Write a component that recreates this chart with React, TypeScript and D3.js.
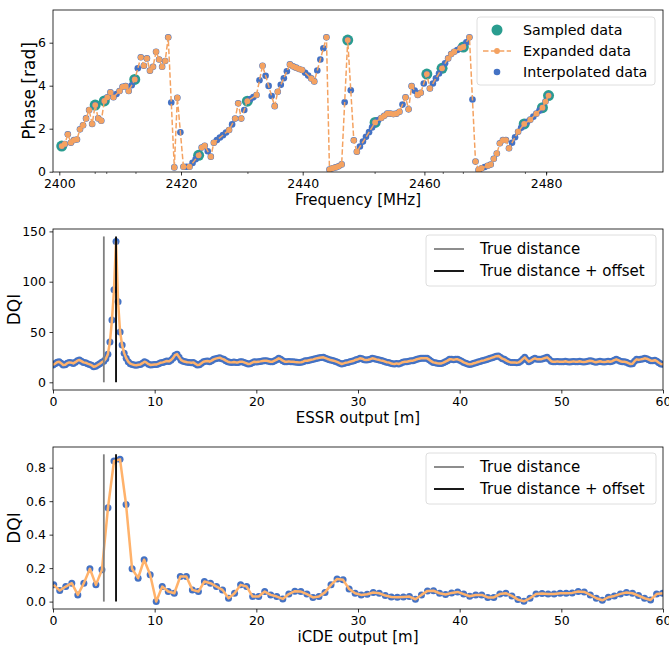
import * as d3 from 'd3';
import { useEffect, useRef } from 'react';

// phase vs frequency (top panel)
const freqStart = 2400.4; // MHz, first channel of the sweep
const freqStep = 0.5;
const interpolatedPhase = [
  1.19, 1.29, 1.74, 1.35, 1.47, 1.5, 1.97, 2.16, 2.48, 2.87,
  2.22, 3.1, 2.48, 2.37, 3.29, 3.46, 3.69, 3.46, 3.61, 3.75,
  3.95, 3.98, 3.75, 4.02, 4.29, 4.81, 5.32, 4.93, 5.27, 4.7,
  4.88, 5.58, 5.22, 4.88, 5.15, 6.25, 3.22, 0.2, 3.44, 1.83,
  0.23, 0.23, 0.23, 0.41, 0.58, 0.76, 1.12, 1.21, 0.95, 0.7,
  1.35, 1.47, 1.59, 1.7, 1.82, 1.94, 2.2, 2.47, 3.18, 2.47,
  2.87, 3.28, 3.38, 3.47, 3.57, 4.25, 4.93, 4.46, 3.99, 3.52,
  3.05, 3.72, 4.04, 4.35, 4.67, 4.99, 4.9, 4.84, 4.78, 4.73,
  4.6, 4.47, 4.34, 4.2, 4.71, 5.22, 5.74, 6.25, 0.1, 0.16,
  0.2, 0.25, 0.34, 3.23, 6.12, 3.79, 1.46, 0.93, 1.17, 1.4,
  1.62, 1.84, 2.06, 2.29, 2.4, 2.5, 2.6, 2.7, 2.7, 2.68,
  2.7, 2.79, 3.12, 3.46, 2.9, 3.98, 3.77, 3.57, 3.67, 4.1,
  4.54, 3.87, 4.1, 4.34, 4.57, 4.81, 5.04, 5.27, 5.47, 5.58,
  5.66, 5.75, 5.8, 6.02, 6.25, 3.36, 0.47, 0.08, 0.16, 0.22,
  0.28, 0.33, 0.6, 0.85, 1.32, 1.47, 1.47, 1.09, 1.35, 1.6,
  1.86, 2.04, 2.22, 2.32, 2.42, 2.56, 2.7, 2.84, 2.98, 3.26,
  3.54,
];
// channel indices with no expanded value (only the interpolated dot)
const missingExpanded = [
  18, 23, 25, 36, 39, 41, 43, 44, 48, 51, 52, 53, 54, 56, 60, 62, 63, 65,
  67, 68, 69, 72, 73, 74, 80, 81, 84, 85, 86, 93, 95, 98, 99, 100, 101, 102,
  104, 112, 116, 119, 122, 123, 124, 126, 130, 133, 135, 139, 148, 149, 151,
  153, 155, 157,
];
const sampledIdx = [0, 11, 14, 24, 45, 61, 94, 103, 120, 125, 132, 152, 158, 160];
const markedFreqs = [2405.9, 2407.8, 2412.6, 2431.0, 2451.9, 2463.1, 2466.4, 2476.6, 2480.1];
const freqTicks = [2400, 2420, 2440, 2460, 2480];
const phaseTicks = [0, 2, 4, 6];

// DQI vs distance (middle and bottom panels)
const essrStep = 0.2;
const essrDqi = [
  17.2, 18.5, 20.0, 20.5, 19.0, 17.2, 17.5, 19.0, 19.8, 19.5,
  18.8, 20.0, 21.5, 22.1, 21.0, 19.8, 19.5, 18.5, 17.8, 17.0,
  15.5, 16.0, 17.2, 18.5, 20.0, 21.0, 23.5, 28.0, 40.0, 62.0,
  92.0, 140.0, 80.0, 50.0, 37.0, 29.0, 24.0, 20.5, 18.5, 17.8,
  17.2, 17.0, 17.5, 17.8, 19.0, 20.5, 19.5, 18.0, 17.2, 17.5,
  17.8, 17.8, 18.5, 19.5, 19.8, 20.5, 21.2, 20.8, 22.0, 24.0,
  27.0, 28.0, 25.0, 22.0, 21.0, 20.5, 20.0, 19.8, 19.5, 19.8,
  18.5, 17.2, 17.5, 19.0, 20.5, 21.0, 21.2, 20.5, 21.5, 22.8,
  23.5, 24.0, 24.5, 23.5, 22.8, 21.5, 20.5, 20.0, 19.8, 20.2,
  19.8, 19.8, 20.5, 20.5, 19.8, 19.0, 18.2, 18.5, 19.5, 20.5,
  20.2, 20.5, 20.8, 21.2, 21.5, 21.5, 21.0, 20.5, 20.5, 21.5,
  22.5, 23.8, 23.0, 21.5, 20.5, 20.5, 20.8, 20.5, 20.5, 20.2,
  20.0, 19.8, 20.0, 20.5, 21.5, 21.5, 22.0, 22.5, 22.8, 23.5,
  24.0, 24.3, 24.6, 24.8, 24.0, 23.2, 22.5, 22.0, 21.5, 20.8,
  20.0, 19.0, 18.2, 18.8, 19.5, 19.8, 20.5, 21.0, 21.5, 22.5,
  23.0, 23.8, 23.5, 22.5, 22.2, 22.5, 23.0, 23.8, 23.5, 22.8,
  22.5, 21.8, 21.5, 20.8, 20.0, 19.8, 19.0, 18.5, 18.2, 18.8,
  18.2, 19.0, 20.0, 20.5, 20.5, 21.0, 21.5, 21.5, 22.2, 23.0,
  23.5, 23.8, 24.0, 23.8, 23.8, 22.5, 21.0, 19.8, 19.5, 19.0,
  18.8, 18.8, 19.5, 20.5, 21.5, 22.8, 22.8, 22.5, 22.8, 22.8,
  22.0, 21.0, 19.8, 19.0, 18.2, 17.8, 18.2, 19.0, 19.5, 20.2,
  20.8, 21.5, 21.8, 22.5, 23.2, 23.8, 24.5, 25.2, 26.0, 26.2,
  25.0, 23.5, 22.8, 21.5, 20.5, 19.8, 19.8, 19.8, 19.5, 19.8,
  21.0, 23.0, 24.8, 22.5, 20.5, 21.5, 23.0, 23.8, 23.0, 22.8,
  22.8, 23.5, 24.2, 24.8, 23.0, 21.0, 20.5, 20.5, 20.8, 20.5,
  20.5, 20.5, 21.0, 20.5, 20.2, 20.5, 20.8, 20.5, 20.5, 21.0,
  20.5, 20.2, 20.5, 21.0, 21.5, 21.2, 20.5, 20.0, 20.5, 21.0,
  20.5, 20.2, 20.5, 21.0, 20.5, 21.0, 22.0, 22.8, 22.0, 21.0,
  20.5, 20.5, 20.0, 19.0, 18.2, 18.5, 21.0, 22.8, 22.5, 22.8,
  23.2, 23.8, 23.5, 22.5, 21.5, 21.5, 22.0, 21.0, 19.5, 18.2,
  18.0,
];
const icdeStart = 0.07;
const icdeStep = 0.593;
const icdeDqi = [
  0.1, 0.066, 0.09, 0.11, 0.04, 0.11, 0.196, 0.1, 0.19, 0.56,
  0.84, 0.85, 0.58, 0.196, 0.14, 0.25, 0.16, 0.0, 0.09, 0.06,
  0.05, 0.15, 0.15, 0.07, 0.06, 0.12, 0.11, 0.09, 0.07, 0.02,
  0.05, 0.1, 0.09, 0.03, 0.03, 0.06, 0.04, 0.03, 0.016, 0.045,
  0.062, 0.06, 0.045, 0.025, 0.03, 0.055, 0.1, 0.135, 0.13, 0.075,
  0.05, 0.04, 0.044, 0.054, 0.05, 0.036, 0.028, 0.026, 0.028, 0.03,
  0.014, 0.04, 0.064, 0.065, 0.05, 0.042, 0.052, 0.058, 0.045, 0.032,
  0.04, 0.04, 0.025, 0.025, 0.045, 0.05, 0.034, 0.012, 0.002, 0.02,
  0.045, 0.048, 0.046, 0.046, 0.05, 0.05, 0.052, 0.06, 0.058, 0.04,
  0.02, 0.008, 0.026, 0.034, 0.046, 0.054, 0.05, 0.036, 0.02, 0.01,
  0.045, 0.05,
];
const distTicks = [0, 10, 20, 30, 40, 50, 60];
const essrTicks = [0, 50, 100, 150];
const icdeTicks = [0, 0.2, 0.4, 0.6, 0.8];
const trueDistance = 5.0;
const offsetDistance = 6.2;
const essrLineTop = 145;
const icdeLineTop = 0.88;

const FONT = "'DejaVu Sans', sans-serif";
const TEAL = '#2a9d8f';
const ORANGE = '#f4a261';
const BLUE = '#4472c4';
const LIGHT_ORANGE = '#ffb26b';
const L = 53;
const R = 663;

export default function App() {
  const svgRef = useRef<SVGSVGElement>(null);

  useEffect(() => {
    const svg = d3.select(svgRef.current);
    svg.selectAll('*').remove();
    const defs = svg.append('defs');

    const panel = (id, top, bottom, x, y, xTicks, yTicks, yFmt, xLabel, yLabel, yLabelX) => {
      defs.append('clipPath').attr('id', id).append('rect')
        .attr('x', L).attr('y', top).attr('width', R - L).attr('height', bottom - top);
      const xa = svg.append('g').attr('transform', `translate(0,${bottom})`)
        .call(d3.axisBottom(x).tickValues(xTicks).tickFormat(d => String(d)).tickSize(3.5).tickPadding(3.5));
      const ya = svg.append('g').attr('transform', `translate(${L},0)`)
        .call(d3.axisLeft(y).tickValues(yTicks).tickFormat(yFmt).tickSize(3.5).tickPadding(3.5));
      [xa, ya].forEach(a => {
        a.select('.domain').remove();
        a.attr('font-family', FONT).attr('font-size', 12.5);
        a.selectAll('line').attr('stroke-width', 0.8);
      });
      svg.append('text')
        .attr('x', (L + R) / 2).attr('y', bottom + 32.5)
        .attr('text-anchor', 'middle').attr('font-family', FONT).attr('font-size', 15)
        .text(xLabel);
      svg.append('text')
        .attr('transform', `translate(${yLabelX},${(top + bottom) / 2}) rotate(-90)`)
        .attr('text-anchor', 'middle').attr('font-family', FONT).attr('font-size', 17)
        .text(yLabel);
      return svg.append('g').attr('clip-path', `url(#${id})`);
    };

    const border = (top, bottom) => {
      svg.append('rect')
        .attr('x', L).attr('y', top).attr('width', R - L).attr('height', bottom - top)
        .attr('fill', 'none').attr('stroke', '#000').attr('stroke-width', 0.8);
    };

    const legendBox = (x, y, w, h) => {
      svg.append('rect')
        .attr('x', x).attr('y', y).attr('width', w).attr('height', h).attr('rx', 3)
        .attr('fill', '#fff').attr('fill-opacity', 0.8)
        .attr('stroke', '#d6d6d6').attr('stroke-width', 0.8);
    };
    const legendText = (x, y, t, size) => {
      svg.append('text')
        .attr('x', x).attr('y', y).attr('dy', '0.36em')
        .attr('font-family', FONT).attr('font-size', size).text(t);
    };

    // ---------- top: phase ----------
    const fx = d3.scaleLinear().domain([2400, 2480]).range([59.3, 546.1]);
    const py = d3.scaleLinear().domain([0, 6]).range([171.7, 42.7]);
    const topPlot = panel('clipTop', 10, 172, fx, py, freqTicks, phaseTicks, d => String(d),
      'Frequency [MHz]', 'Phase [rad]', 35);

    const phasePts = interpolatedPhase.map((v, i) => ({ f: freqStart + i * freqStep, v, i }));
    const expandedPts = phasePts.filter(d => !missingExpanded.includes(d.i));
    const sampledPts = sampledIdx.map(i => phasePts[i]);

    topPlot.selectAll('.sampled').data(sampledPts).join('circle')
      .attr('class', 'sampled')
      .attr('cx', d => fx(d.f)).attr('cy', d => py(d.v)).attr('r', 5.5)
      .attr('fill', TEAL);
    topPlot.selectAll('.interp').data(phasePts).join('circle')
      .attr('class', 'interp')
      .attr('cx', d => fx(d.f)).attr('cy', d => py(d.v)).attr('r', 3.3)
      .attr('fill', BLUE);
    topPlot.append('path')
      .attr('d', d3.line().x(d => fx(d.f)).y(d => py(d.v))(expandedPts))
      .attr('fill', 'none').attr('stroke', ORANGE).attr('stroke-width', 1.5)
      .attr('stroke-dasharray', '5.5,2.4');
    topPlot.selectAll('.expanded').data(expandedPts).join('circle')
      .attr('class', 'expanded')
      .attr('cx', d => fx(d.f)).attr('cy', d => py(d.v)).attr('r', 2.9)
      .attr('fill', ORANGE);

    svg.selectAll('.mark').data(markedFreqs).join('line')
      .attr('class', 'mark')
      .attr('x1', d => fx(d)).attr('x2', d => fx(d)).attr('y1', 172).attr('y2', 174)
      .attr('stroke', '#000').attr('stroke-width', 0.6);
    border(10, 172);

    legendBox(477, 17, 178, 68);
    svg.append('circle').attr('cx', 497).attr('cy', 30).attr('r', 5.5).attr('fill', TEAL);
    svg.append('line').attr('x1', 483).attr('x2', 511).attr('y1', 51).attr('y2', 51)
      .attr('stroke', ORANGE).attr('stroke-width', 1.5).attr('stroke-dasharray', '5.5,2.4');
    svg.append('circle').attr('cx', 497).attr('cy', 51).attr('r', 2.9).attr('fill', ORANGE);
    svg.append('circle').attr('cx', 497).attr('cy', 72).attr('r', 3.3).attr('fill', BLUE);
    legendText(523, 30, 'Sampled data', 14.3);
    legendText(523, 51, 'Expanded data', 14.3);
    legendText(523, 72, 'Interpolated data', 14.3);

    // ---------- DQI panels ----------
    const dx = d3.scaleLinear().domain([0, 60]).range([L, R]);

    const dqiPanel = (id, top, bottom, y, ticks, fmt, label, values, x0, step, lineTop) => {
      const plot = panel(id, top, bottom, dx, y, distTicks, ticks, fmt, label, 'DQI', 20);
      const pts = values.map((v, i) => ({ m: x0 + i * step, v }));
      plot.selectAll('.dot').data(pts).join('circle')
        .attr('class', 'dot')
        .attr('cx', d => dx(d.m)).attr('cy', d => y(d.v)).attr('r', 3.5)
        .attr('fill', BLUE);
      plot.append('path')
        .attr('d', d3.line().x(d => dx(d.m)).y(d => y(d.v))(pts))
        .attr('fill', 'none').attr('stroke', LIGHT_ORANGE).attr('stroke-width', 2.5)
        .attr('stroke-linejoin', 'round');
      plot.append('line')
        .attr('x1', dx(trueDistance)).attr('x2', dx(trueDistance))
        .attr('y1', y(0)).attr('y2', y(lineTop))
        .attr('stroke', '#808080').attr('stroke-width', 1.8);
      plot.append('line')
        .attr('x1', dx(offsetDistance)).attr('x2', dx(offsetDistance))
        .attr('y1', y(0)).attr('y2', y(lineTop))
        .attr('stroke', '#000').attr('stroke-width', 1.8);
      border(top, bottom);

      const lt = top + 6;
      legendBox(426, lt, 230, 51);
      svg.append('line').attr('x1', 434).attr('x2', 464).attr('y1', lt + 14).attr('y2', lt + 14)
        .attr('stroke', '#808080').attr('stroke-width', 1.8);
      svg.append('line').attr('x1', 434).attr('x2', 464).attr('y1', lt + 36).attr('y2', lt + 36)
        .attr('stroke', '#000').attr('stroke-width', 1.8);
      legendText(480, lt + 14, 'True distance', 15);
      legendText(480, lt + 36, 'True distance + offset', 15);
    };

    const ey = d3.scaleLinear().domain([0, 150]).range([382.3, 231.4]);
    dqiPanel('clipMid', 229, 390, ey, essrTicks, d => String(d), 'ESSR output [m]',
      essrDqi, 0, essrStep, essrLineTop);

    const iy = d3.scaleLinear().domain([0, 0.8]).range([601.6, 467.7]);
    dqiPanel('clipBot', 447, 609, iy, icdeTicks, d3.format('.1f'), 'iCDE output [m]',
      icdeDqi, icdeStart, icdeStep, icdeLineTop);
  }, []);

  return (
    <div style={{ position: 'absolute', left: 0, top: 0 }}>
      <svg ref={svgRef} width={669} height={645} style={{ display: 'block', background: '#fff' }} />
    </div>
  );
}
